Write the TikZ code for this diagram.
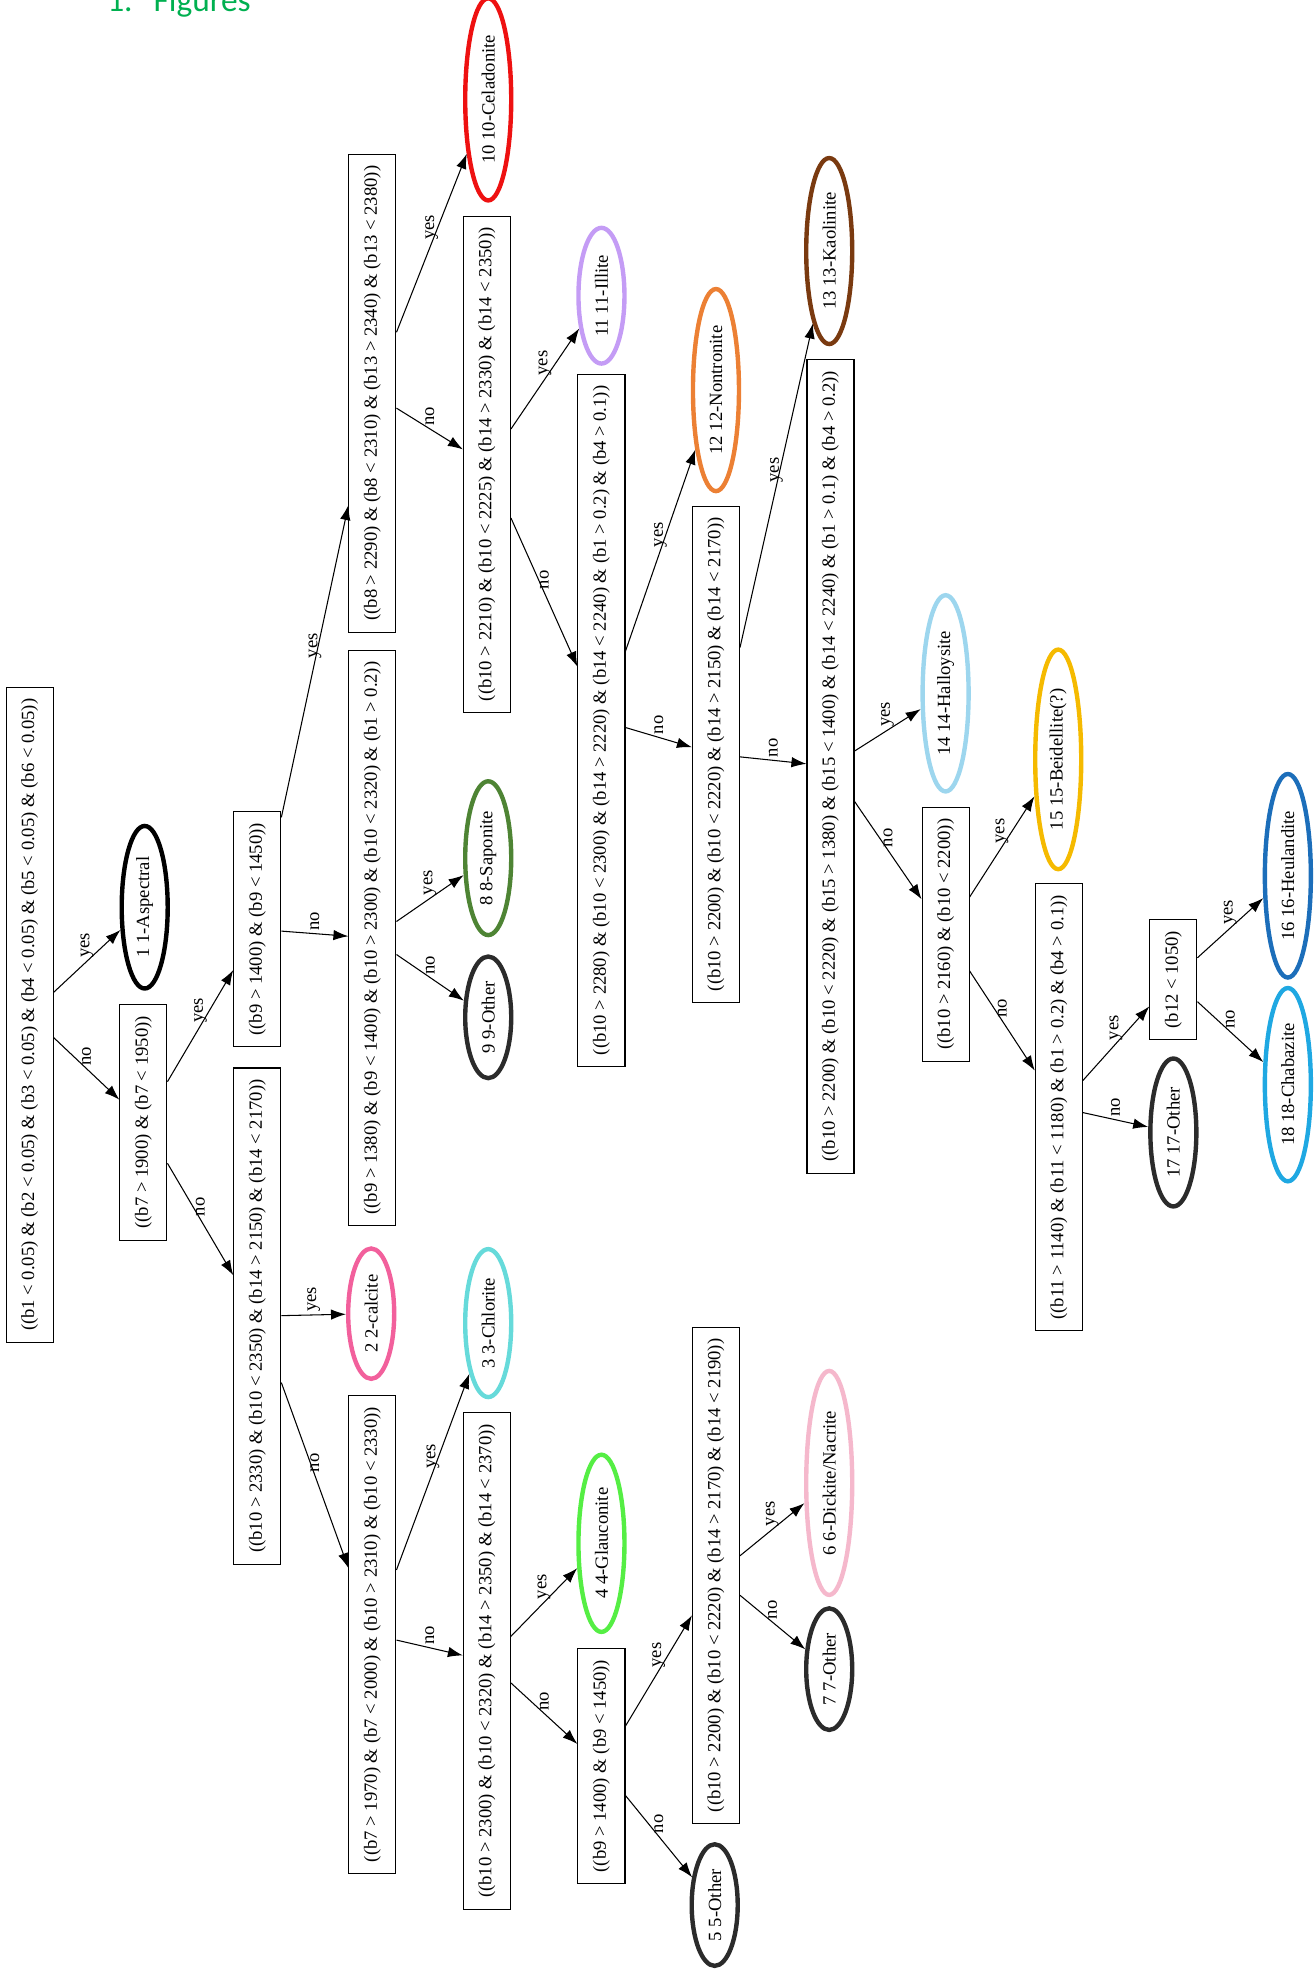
\documentclass[tikz,border=0pt]{standalone}
\usepackage{fontspec}
\setmainfont{Liberation Serif}
\newfontfamily\titlefont{Carlito}
\usepackage{xcolor}
\usetikzlibrary{arrows.meta, shapes.geometric}

\definecolor{headgreen}{HTML}{00B050}
\definecolor{cblack}{HTML}{000000}
\definecolor{cother}{HTML}{2B2B2B}
\definecolor{ccalcite}{HTML}{F2609C}
\definecolor{cchlorite}{HTML}{66DADA}
\definecolor{cglauco}{HTML}{55EE44}
\definecolor{cdickite}{HTML}{F5B8CC}
\definecolor{csaponite}{HTML}{4E8434}
\definecolor{cceladon}{HTML}{EE1111}
\definecolor{cillite}{HTML}{C49CF5}
\definecolor{cnontro}{HTML}{EC8034}
\definecolor{ckaolin}{HTML}{7A3A10}
\definecolor{challoy}{HTML}{9DD6EE}
\definecolor{cbeidel}{HTML}{F5BA00}
\definecolor{cheuland}{HTML}{1C6EBA}
\definecolor{cchabaz}{HTML}{1FA8E2}

\begin{document}
\begin{tikzpicture}[
      x=0.025168cm, y=-0.025168cm,
      every node/.style={font=\fontsize{10.6}{12}\selectfont},
      box/.style={
        draw,
        line width=0.6pt,
        rotate=90,
        minimum height=0.94cm,
        inner xsep=6.5pt
      },
      leaf/.style={
        ellipse,
        draw=#1,
        line width=2.5pt,
        rotate=90,
        minimum height=0.92cm,
        inner xsep=4pt,
        inner ysep=1pt
      },
      arrow/.style={
        -{Latex[length=3mm, width=2.1mm]},
        line width=0.6pt
      },
      lbl/.style={anchor=west, rotate=90, inner sep=1.5pt}
    ]

    \useasboundingbox (0,0) rectangle (1045,1568);

    \node[font=\titlefont\fontsize{19}{22}\selectfont, text=headgreen,
          anchor=base west, inner sep=0pt] (title) at (85,9.5)
      {1.\hspace{0.42cm}Figures};

    % split nodes
    \node[box] (root) at (23.5,806.5)
      {((b1 < 0.05) \& (b2 < 0.05) \& (b3 < 0.05) \& (b4 < 0.05) \& (b5 < 0.05) \& (b6 < 0.05))};
    \node[box] (b7) at (114,892) {((b7 > 1900) \& (b7 < 1950))};
    \node[box] (b9a) at (204.5,738.5) {((b9 > 1400) \& (b9 < 1450))};
    \node[box] (b10a) at (204.5,1046)
      {((b10 > 2330) \& (b10 < 2350) \& (b14 > 2150) \& (b14 < 2170))};
    \node[box] (b8) at (296,312.5)
      {((b8 > 2290) \& (b8 < 2310) \& (b13 > 2340) \& (b13 < 2380))};
    \node[box] (b9b) at (296,745.5)
      {((b9 > 1380) \& (b9 < 1400) \& (b10 > 2300) \& (b10 < 2320) \& (b1 > 0.2))};
    \node[box] (b7b) at (296,1299)
      {((b7 > 1970) \& (b7 < 2000) \& (b10 > 2310) \& (b10 < 2330))};
    \node[box] (b10c) at (387,369)
      {((b10 > 2210) \& (b10 < 2225) \& (b14 > 2330) \& (b14 < 2350))};
    \node[box] (b10h) at (387,1320)
      {((b10 > 2300) \& (b10 < 2320) \& (b14 > 2350) \& (b14 < 2370))};
    \node[box] (b10d) at (478,572.5)
      {((b10 > 2280) \& (b10 < 2300) \& (b14 > 2220) \& (b14 < 2240) \& (b1 > 0.2) \& (b4 > 0.1))};
    \node[box] (b9c) at (478,1403.5) {((b9 > 1400) \& (b9 < 1450))};
    \node[box] (b10e) at (569,599.5)
      {((b10 > 2200) \& (b10 < 2220) \& (b14 > 2150) \& (b14 < 2170))};
    \node[box] (b10i) at (569,1252)
      {((b10 > 2200) \& (b10 < 2220) \& (b14 > 2170) \& (b14 < 2190))};
    \node[box] (b10f) at (660,609)
      {((b10 > 2200) \& (b10 < 2220) \& (b15 > 1380) \& (b15 < 1400) \& (b14 < 2240) \& (b1 > 0.1) \& (b4 > 0.2))};
    \node[box] (b10g) at (751.5,742.5) {((b10 > 2160) \& (b10 < 2200))};
    \node[box] (b11) at (841.5,880)
      {((b11 > 1140) \& (b11 < 1180) \& (b1 > 0.2) \& (b4 > 0.1))};
    \node[box] (b12) at (932.5,778.5) {(b12 < 1050)};

    % classes
    \node[leaf=cblack] (asp) at (115,721) {1 1-Aspectral};
    \node[leaf=ccalcite] (cal) at (295,1044) {2 2-calcite};
    \node[leaf=cchlorite] (chl) at (388,1051.5) {3 3-Chlorite};
    \node[leaf=cglauco] (gla) at (478,1226.5) {4 4-Glauconite};
    \node[leaf=cother] (oth5) at (568,1514) {5 5-Other};
    \node[leaf=cdickite] (dic) at (659,1178.5) {6 6-Dickite/Nacrite};
    \node[leaf=cother] (oth7) at (659,1326.5) {7 7-Other};
    \node[leaf=csaponite] (sap) at (388,682) {8 8-Saponite};
    \node[leaf=cother] (oth9) at (388,808.5) {9 9-Other};
    \node[leaf=cceladon] (cel) at (388,79) {10 10-Celadonite};
    \node[leaf=cillite] (ill) at (478,235) {11 11-Illite};
    \node[leaf=cnontro] (non) at (569,310) {12 12-Nontronite};
    \node[leaf=ckaolin] (kao) at (659,199.5) {13 13-Kaolinite};
    \node[leaf=challoy] (hal) at (751.5,551) {14 14-Halloysite};
    \node[leaf=cbeidel] (bei) at (841,603.5) {15 15-Beidellite(?)};
    \node[leaf=cheuland] (heu) at (1023.5,696) {16 16-Heulandite};
    \node[leaf=cother] (oth17) at (932.5,900) {17 17-Other};
    \node[leaf=cchabaz] (cha) at (1023.5,862) {18 18-Chabazite};

    % edges
    \draw[arrow] (root) -- node[lbl] {yes} (asp);
    \draw[arrow] (root) -- node[lbl] {no} (b7);
    \draw[arrow] (b7) -- node[lbl] {yes} (b9a);
    \draw[arrow] (b7) -- node[lbl] {no} (b10a);
    \draw[arrow] (b9a) -- node[lbl] {yes} (b8);
    \draw[arrow] (b9a) -- node[lbl] {no} (b9b);
    \draw[arrow] (b9b) -- node[lbl] {yes} (sap);
    \draw[arrow] (b9b) -- node[lbl] {no} (oth9);
    \draw[arrow] (b8) -- node[lbl] {yes} (cel);
    \draw[arrow] (b8) -- node[lbl] {no} (b10c);
    \draw[arrow] (b10c) -- node[lbl] {yes} (ill);
    \draw[arrow] (b10c) -- node[lbl] {no} (b10d);
    \draw[arrow] (b10d) -- node[lbl] {yes} (non);
    \draw[arrow] (b10d) -- node[lbl] {no} (b10e);
    \draw[arrow] (b10e) -- node[lbl] {yes} (kao);
    \draw[arrow] (b10e) -- node[lbl] {no} (b10f);
    \draw[arrow] (b10f) -- node[lbl] {yes} (hal);
    \draw[arrow] (b10f) -- node[lbl] {no} (b10g);
    \draw[arrow] (b10g) -- node[lbl] {yes} (bei);
    \draw[arrow] (b10g) -- node[lbl] {no} (b11);
    \draw[arrow] (b11) -- node[lbl] {yes} (b12);
    \draw[arrow] (b11) -- node[lbl] {no} (oth17);
    \draw[arrow] (b12) -- node[lbl] {yes} (heu);
    \draw[arrow] (b12) -- node[lbl] {no} (cha);
    \draw[arrow] (b10a) -- node[lbl] {yes} (cal);
    \draw[arrow] (b10a) -- node[lbl] {no} (b7b);
    \draw[arrow] (b7b) -- node[lbl] {yes} (chl);
    \draw[arrow] (b7b) -- node[lbl] {no} (b10h);
    \draw[arrow] (b10h) -- node[lbl] {yes} (gla);
    \draw[arrow] (b10h) -- node[lbl] {no} (b9c);
    \draw[arrow] (b9c) -- node[lbl] {yes} (b10i);
    \draw[arrow] (b9c) -- node[lbl] {no} (oth5);
    \draw[arrow] (b10i) -- node[lbl] {yes} (dic);
    \draw[arrow] (b10i) -- node[lbl] {no} (oth7);

    \end{tikzpicture}
\end{document}
